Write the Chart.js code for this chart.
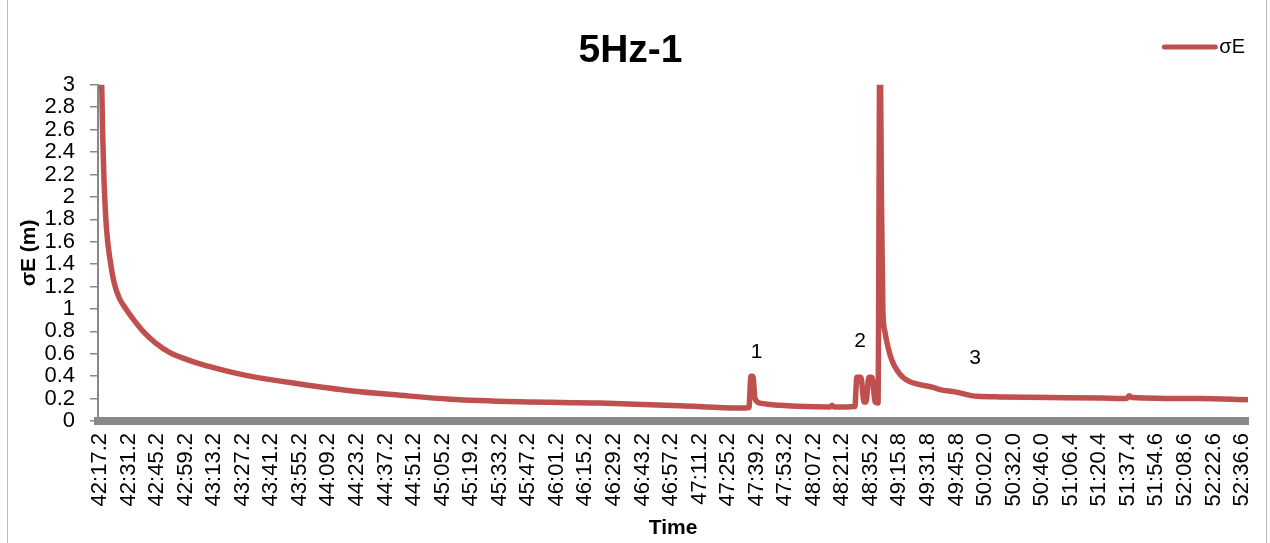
<!DOCTYPE html>
<html>
<head>
<meta charset="utf-8">
<title>5Hz-1</title>
<script src="https://cdn.jsdelivr.net/npm/chart.js@4.4.0/dist/chart.umd.min.js"></script>
<style>
  html, body { margin: 0; padding: 0; background: #fff; }
  #wrap { position: relative; width: 1270px; height: 543px; overflow: hidden; }
  #frame { position: absolute; left: 7px; top: -1px; width: 1260px; height: 560px; border: 1px solid #bcbcbc; box-sizing: border-box; pointer-events: none; }
  canvas { display: block; }
</style>
</head>
<body>
<div id="wrap">
  <canvas id="grafico" width="1270" height="543"></canvas>
  <div id="frame"></div>
</div>
<script>
// tick labels of the time axis (one every 70 samples in the original sheet)
var timeLabels = ['42:17.2','42:31.2','42:45.2','42:59.2','43:13.2','43:27.2','43:41.2','43:55.2',
  '44:09.2','44:23.2','44:37.2','44:51.2','45:05.2','45:19.2','45:33.2','45:47.2','46:01.2',
  '46:15.2','46:29.2','46:43.2','46:57.2','47:11.2','47:25.2','47:39.2','47:53.2','48:07.2',
  '48:21.2','48:35.2','49:15.8','49:31.8','49:45.8','50:02.0','50:32.0','50:46.0','51:06.4',
  '51:20.4','51:37.4','51:54.6','52:08.6','52:22.6','52:36.6'];

var yTicks = [0, 0.2, 0.4, 0.6, 0.8, 1, 1.2, 1.4, 1.6, 1.8, 2, 2.2, 2.4, 2.6, 2.8, 3];

// position along the time axis, in label steps (0 = first label)
var sampleIdx = [0.00, 0.06, 0.09, 0.14, 0.23, 0.37, 0.49, 0.67, 0.91, 1.19, 1.51, 1.93, 2.45,
  2.98, 3.50, 4.38, 5.25, 7.00, 8.76, 10.51, 12.26, 14.71, 17.51, 20.32, 22.42, 22.73, 22.80,
  22.87, 22.94, 23.12, 23.82, 25.57, 25.64, 25.71, 26.44, 26.51, 26.65, 26.76, 26.83, 26.93,
  27.04, 27.15, 27.25, 27.32, 27.37, 27.42, 27.49, 27.60, 27.74, 27.91, 28.12, 28.37, 29.18,
  29.42, 29.95, 30.72, 31.52, 33.27, 35.03, 35.97, 36.04, 36.15, 38.53, 40.21];

// sigma E (m)
var sigmaE = [3.6, 3.0, 2.6, 2.15, 1.71, 1.41, 1.24, 1.1, 1.0, 0.9, 0.8, 0.7, 0.61,
  0.555, 0.51, 0.45, 0.40, 0.33, 0.27, 0.23, 0.195, 0.172, 0.16, 0.135, 0.115, 0.12, 0.40,
  0.40, 0.2, 0.16, 0.14, 0.125, 0.14, 0.125, 0.13, 0.39, 0.39, 0.17, 0.17, 0.39,
  0.39, 0.17, 0.16, 3.6, 2.0, 1.0, 0.8, 0.66, 0.54, 0.455, 0.39, 0.35, 0.30,
  0.28, 0.26, 0.22, 0.215, 0.21, 0.205, 0.20, 0.225, 0.21, 0.20, 0.19];

// event numbers written on the chart
var markTexts = ['1', '2', '3'];
var markIdx = [23.0, 26.62, 30.65];
var markVal = [0.61, 0.71, 0.56];

var fam = '"Liberation Sans", Arial, sans-serif';
Chart.defaults.font.family = fam;
Chart.defaults.color = '#000';

var extras = {
  id: 'extras',
  afterDatasetsDraw: function(chart) {
    var ctx = chart.ctx;
    var xs = chart.scales.x, ys = chart.scales.y;
    ctx.save();
    ctx.fillStyle = '#000';
    ctx.font = '21px ' + fam;
    ctx.textAlign = 'center';
    ctx.textBaseline = 'middle';
    for (var i = 0; i < markTexts.length; i++) {
      ctx.fillText(markTexts[i], xs.getPixelForValue(markIdx[i]), ys.getPixelForValue(markVal[i]));
    }
    // legend entry
    var ds = chart.data.datasets[0];
    ctx.font = '20px ' + fam;
    var tw = ctx.measureText(ds.label).width;
    var right = chart.width - 25;
    var ty = 47;
    ctx.textAlign = 'left';
    ctx.fillText(ds.label, right - tw, ty);
    ctx.strokeStyle = ds.borderColor;
    ctx.lineWidth = 5;
    ctx.lineCap = 'round';
    ctx.beginPath();
    ctx.moveTo(right - tw - 55, ty);
    ctx.lineTo(right - tw - 4, ty);
    ctx.stroke();
    ctx.restore();
  }
};

var chart = new Chart(document.getElementById('grafico'), {
  type: 'line',
  data: {
    datasets: [{
      label: 'σE',
      data: sampleIdx.map(function(x, i) { return { x: x, y: sigmaE[i] }; }),
      borderColor: '#C0504D',
      backgroundColor: '#C0504D',
      borderWidth: 5.5,
      pointRadius: 0,
      cubicInterpolationMode: 'monotone',
      fill: false
    }]
  },
  options: {
    responsive: false,
    animation: false,
    layout: { autoPadding: false, padding: { top: 18, left: 13, right: 22, bottom: 2 } },
    plugins: {
      legend: { display: false },
      tooltip: { enabled: false },
      title: {
        display: true,
        text: '5Hz-1',
        color: '#000',
        font: { size: 39, weight: 'bold' },
        padding: { top: 10, bottom: 10 }
      }
    },
    scales: {
      x: {
        type: 'linear',
        min: -0.07,
        max: 40.21,
        afterBuildTicks: function(axis) {
          axis.ticks = timeLabels.map(function(t, i) { return { value: i }; });
        },
        afterFit: function(axis) {
          axis.height = 120;
          axis.paddingLeft = 0;
          axis.paddingRight = 0;
        },
        ticks: {
          autoSkip: false,
          minRotation: 90,
          maxRotation: 90,
          padding: 12,
          font: { size: 22 },
          callback: function(v, i) { return timeLabels[i]; }
        },
        grid: { display: false, drawTicks: false },
        border: { display: true, color: '#888888', width: 8 },
        title: {
          display: true,
          text: 'Time',
          font: { size: 21, weight: 'bold' },
          padding: { top: 6, bottom: 0 }
        }
      },
      y: {
        min: 0,
        max: 3,
        afterBuildTicks: function(axis) {
          axis.ticks = yTicks.map(function(v) { return { value: v }; });
        },
        afterFit: function(axis) {
          axis.width = 85;
          axis.paddingTop = 0;
          axis.paddingBottom = 0;
        },
        ticks: {
          autoSkip: false,
          padding: 15,
          font: { size: 22 },
          callback: function(v) { return String(v); }
        },
        grid: { display: true, drawOnChartArea: false, drawTicks: true, tickLength: 8, color: '#888888', lineWidth: 1.5 },
        border: { display: true, color: '#888888', width: 2 },
        title: {
          display: true,
          text: 'σE (m)',
          font: { size: 21, weight: 'bold' },
          padding: { top: 4, bottom: 4 }
        }
      }
    }
  },
  plugins: [extras]
});
</script>
</body>
</html>
